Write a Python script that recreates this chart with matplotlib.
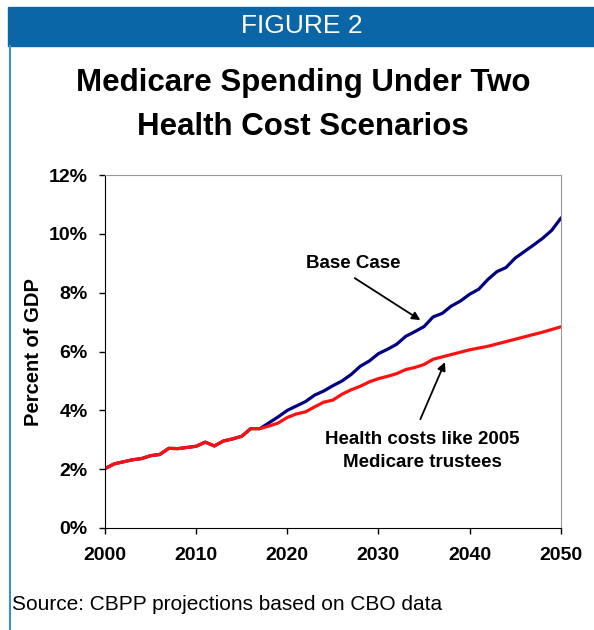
import matplotlib.pyplot as plt
from matplotlib.patches import Rectangle
from matplotlib.lines import Line2D

plt.rcParams['font.family'] = ['Liberation Sans', 'DejaVu Sans']

years = list(range(2000, 2051))

# health costs like 2005 Medicare trustees (percent of GDP)
trustees = [2.02, 2.18, 2.25, 2.32, 2.36, 2.46, 2.50, 2.71, 2.70, 2.74,
            2.78, 2.92, 2.79, 2.96, 3.03, 3.12, 3.38, 3.38, 3.47, 3.57,
            3.76, 3.88, 3.95, 4.12, 4.28, 4.35, 4.55, 4.70, 4.82, 4.97,
            5.08, 5.16, 5.25, 5.39, 5.46, 5.56, 5.74, 5.82, 5.90, 5.98,
            6.06, 6.12, 6.18, 6.26, 6.34, 6.42, 6.50, 6.58, 6.66, 6.75,
            6.84]

# base case
base = [2.02, 2.18, 2.25, 2.32, 2.36, 2.46, 2.50, 2.71, 2.70, 2.74,
        2.78, 2.92, 2.79, 2.96, 3.03, 3.12, 3.38, 3.38, 3.58, 3.78,
        4.00, 4.15, 4.30, 4.52, 4.66, 4.84, 5.00, 5.22, 5.50, 5.68,
        5.93, 6.08, 6.25, 6.52, 6.68, 6.85, 7.18, 7.30, 7.55, 7.72,
        7.95, 8.12, 8.45, 8.72, 8.86, 9.18, 9.40, 9.62, 9.85, 10.12,
        10.53]

yticks = [0, 2, 4, 6, 8, 10, 12]
xticks = [2000, 2010, 2020, 2030, 2040, 2050]

fig = plt.figure(figsize=(5.94, 6.3), dpi=100)

# header bar and left border
fig.patches.append(Rectangle((8 / 594, 1 - 46 / 630), 586 / 594, 39 / 630,
                             transform=fig.transFigure, color='#0b66a8'))
fig.lines.append(Line2D([10 / 594, 10 / 594], [0, 1 - 46 / 630],
                        transform=fig.transFigure, color='#3b8fd0', lw=1.5))
fig.text(0.508, 1 - 26 / 630, 'FIGURE 2', color='white', ha='center', va='center',
         fontsize=19)
fig.text(0.51, 1 - 105 / 630, 'Medicare Spending Under Two\nHealth Cost Scenarios',
         ha='center', va='center', fontsize=22.5, fontweight='bold', linespacing=1.6)

ax = fig.add_axes([105 / 594, 102 / 630, 455.7 / 594, 352.8 / 630])
ax.plot(years, base, color='#000080', lw=2.3)
ax.plot(years, trustees, color='#ff1010', lw=2.3)

ax.set_xlim(2000, 2050)
ax.set_ylim(0, 12)
ax.set_xticks(xticks)
ax.set_yticks(yticks)
ax.set_yticklabels([f'{v}%' for v in yticks])
ax.tick_params(labelsize=14, length=4.5, width=1, direction='out')
ax.tick_params(axis='y', pad=8)
ax.tick_params(axis='x', pad=9)
for lab in ax.get_xticklabels() + ax.get_yticklabels():
    lab.set_fontweight('bold')
ax.spines['top'].set_color('#999999')
ax.spines['right'].set_color('#999999')
ax.set_ylabel('Percent of GDP', fontsize=14.5, fontweight='bold', labelpad=4)

arrow = dict(arrowstyle='-|>', color='black', lw=1.3, shrinkA=0, shrinkB=0,
             mutation_scale=12)
ax.text(2027.2, 9.0, 'Base Case', fontsize=13.5, fontweight='bold',
        ha='center', va='center')
ax.annotate('', xy=(2034.6, 7.07), xytext=(2027.4, 8.5), arrowprops=arrow)
ax.text(2034.8, 2.61, 'Health costs like 2005\nMedicare trustees', fontsize=13.5,
        fontweight='bold', ha='center', va='center', linespacing=1.45)
ax.annotate('', xy=(2037.3, 5.64), xytext=(2034.6, 3.7), arrowprops=arrow)

fig.text(12 / 594, 1 - 604 / 630, 'Source: CBPP projections based on CBO data',
         fontsize=15, va='center', ha='left')

plt.savefig('out.png', dpi=100)
